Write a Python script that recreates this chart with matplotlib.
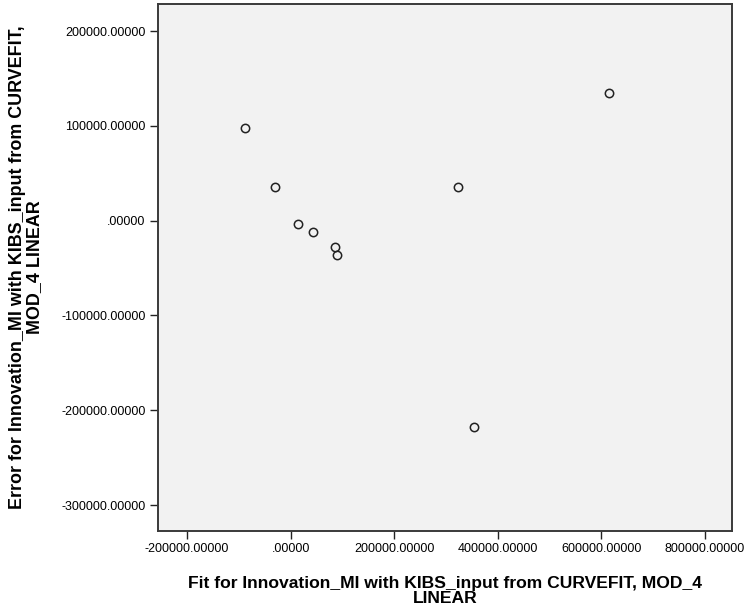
import matplotlib
matplotlib.use("Agg")
import matplotlib.pyplot as plt
from matplotlib.ticker import FuncFormatter

# valores (ajuste vs error)
fit_x = [-88600, -30700, 14500, 42700, 86500, 90300, 322600, 354800, 615400]
error_y = [97400, 35800, -3600, -11700, -27500, -36300, 35100, -218000, 134900]

xticks = [-200000, 0, 200000, 400000, 600000, 800000]
yticks = [200000, 100000, 0, -100000, -200000, -300000]

xlabel = "Fit for Innovation_MI with KIBS_input from CURVEFIT, MOD_4\nLINEAR"
ylabel = "Error for Innovation_MI with KIBS_input from CURVEFIT,\nMOD_4 LINEAR"

plt.rcParams['font.family'] = ['Liberation Sans', 'DejaVu Sans']

def formato(v, pos):
    s = "%.5f" % v
    if s.startswith("0."):
        s = s[1:]
    if s.startswith("-0.") and v == 0:
        s = s[2:]
    return s

fig = plt.figure(figsize=(7.45, 6.12), dpi=100)
ax = fig.add_axes([158/745, 1 - 531/612, (732 - 158)/745, (531 - 4)/612])
ax.set_facecolor('#f2f2f2')

ax.plot(fit_x, error_y, linestyle='none', marker='o', markersize=6,
        markerfacecolor='none', markeredgecolor='#222222', markeredgewidth=1.1)

ax.set_xlim(-255900, 852000)
ax.set_ylim(-327400, 228500)
ax.set_xticks(xticks)
ax.set_yticks(yticks)
ax.xaxis.set_major_formatter(FuncFormatter(formato))
ax.yaxis.set_major_formatter(FuncFormatter(formato))
ax.tick_params(direction='out', length=6, width=1, color='#222222',
               labelsize=9, labelcolor='black', pad=3)

for lado in ax.spines.values():
    lado.set_color('#3a3a3a')
    lado.set_linewidth(1.4)

fig.text(445/745, 1 - 591/612, xlabel, ha='center', va='center',
         fontsize=12.6, fontweight='bold', linespacing=1.05)
fig.text(26/745, 1 - 267/612, ylabel, ha='center', va='center', rotation=90,
         fontsize=12.9, fontweight='bold', linespacing=1.05)

plt.savefig("out.png", dpi=100)
plt.close()
